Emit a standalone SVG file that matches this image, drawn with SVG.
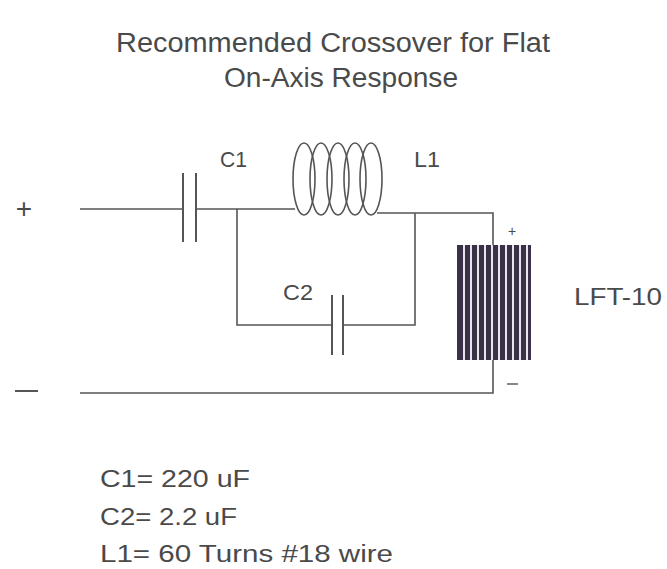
<svg xmlns="http://www.w3.org/2000/svg" width="667" height="569" viewBox="0 0 667 569">
<style>
text{font-family:"Liberation Sans",Arial,sans-serif;fill:#4a4a4a}
.w{stroke:#555;stroke-width:1.6;fill:none}
.p{stroke:#555;stroke-width:2;fill:none}
</style>
<rect width="667" height="569" fill="#fff"/>
<g id="title">
<text x="116" y="52" font-size="27" textLength="434" lengthAdjust="spacingAndGlyphs">Recommended Crossover for Flat</text>
<text x="224" y="87" font-size="27" textLength="234" lengthAdjust="spacingAndGlyphs">On-Axis Response</text>
</g>
<g id="connectors">
<path class="w" d="M80 209 H183"/>
<path class="w" d="M196 209 H295"/>
<path class="w" d="M237 209 V325 H332"/>
<path class="w" d="M343 325 H415 V213"/>
<path class="w" d="M377 213 H493 V245"/>
<path class="w" d="M493 360 V393 H80"/>
</g>
<g id="terminal-plus"><text x="24" y="218" font-size="28" text-anchor="middle">+</text></g>
<g id="terminal-minus"><path d="M15 391 H38" stroke="#555" stroke-width="2"/></g>
<g id="C1">
<path class="p" d="M183 173 V242 M196 173 V242"/>
<text x="220" y="167" font-size="22" textLength="27" lengthAdjust="spacingAndGlyphs">C1</text>
</g>
<g id="L1">
<ellipse class="w" cx="304" cy="179" rx="11" ry="36"/>
<ellipse class="w" cx="321" cy="179" rx="11" ry="36"/>
<ellipse class="w" cx="338" cy="179" rx="11" ry="36"/>
<ellipse class="w" cx="355" cy="179" rx="11" ry="36"/>
<ellipse class="w" cx="371" cy="179" rx="11" ry="36"/>
<text x="414" y="167" font-size="22" textLength="26" lengthAdjust="spacingAndGlyphs">L1</text>
</g>
<g id="C2">
<path class="p" d="M332 295 V355 M343 295 V355"/>
<text x="283" y="300" font-size="22" textLength="30" lengthAdjust="spacingAndGlyphs">C2</text>
</g>
<g id="LFT-10">
<rect x="457" y="245" width="74" height="115" fill="#3a3048"/>
<g stroke="#e8e4ea" stroke-width="2">
<path d="M464 245V360 M471 245V360 M478 245V360 M485 245V360 M492 245V360 M499 245V360 M506 245V360 M513 245V360 M520 245V360 M527 245V360"/>
</g>
<text x="512" y="236" font-size="14" text-anchor="middle">+</text>
<path d="M507 384 H518" stroke="#555" stroke-width="1.4"/>
<text x="574" y="305" font-size="24" textLength="88" lengthAdjust="spacingAndGlyphs">LFT-10</text>
</g>
<g id="notes">
<text x="100" y="487" font-size="23" textLength="150" lengthAdjust="spacingAndGlyphs">C1= 220 uF</text>
<text x="100" y="525" font-size="23" textLength="137" lengthAdjust="spacingAndGlyphs">C2= 2.2 uF</text>
<text x="100" y="562" font-size="23" textLength="293" lengthAdjust="spacingAndGlyphs">L1= 60 Turns #18 wire</text>
</g>
</svg>
